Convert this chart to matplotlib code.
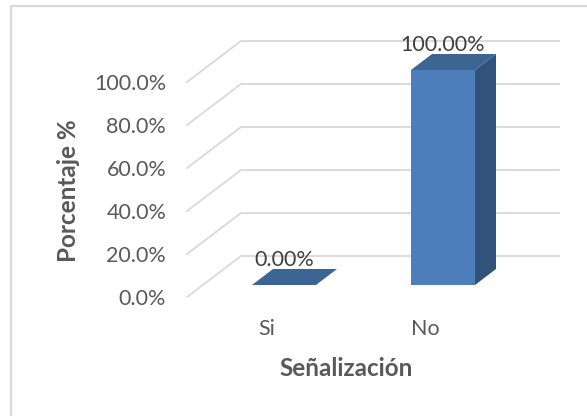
import matplotlib
matplotlib.use('Agg')
import matplotlib.pyplot as plt
from matplotlib.lines import Line2D
from matplotlib.patches import Polygon

# Datos
categorias = ['Si', 'No']
porcentajes = [0.0, 100.0]
etiquetas = ['0.00%', '100.00%']
yticks = [0, 20, 40, 60, 80, 100]
ytick_labels = ['0.0%', '20.0%', '40.0%', '60.0%', '80.0%', '100.0%']

plt.rcParams['font.family'] = ['Lato', 'DejaVu Sans']

W, H = 587, 416
GRIS = '#595959'
GRID = '#D9D9D9'

fig = plt.figure(figsize=(W / 100, H / 100), dpi=100)
ax = fig.add_axes([187 / W, 1 - 297 / H, 318 / W, 215 / H])
ax.set_xlim(-0.5, 1.5)
ax.set_ylim(0, 100)

# pixeles -> unidades de datos
px_x = 2 / 318
px_y = 100 / 215

# Profundidad del piso y de las barras
piso_x, piso_y = 54 * px_x, 41 * px_y
off_x, off_y = 17.5 * px_x, 12 * px_y
prof_x, prof_y = 21 * px_x, 16 * px_y
ancho = 64 * px_x

# Lineas de la cuadricula (con el lado izquierdo en perspectiva)
for v in yticks:
    ax.plot([-0.5, -0.5 + piso_x, 1.5 + piso_x], [v, v + piso_y, v + piso_y],
            color=GRID, lw=1.3, clip_on=False, zorder=1, solid_joinstyle='miter')

# Barras 3D
for i, val in enumerate(porcentajes):
    x0 = i - ancho / 2 + off_x
    x1 = x0 + ancho
    y0 = off_y
    y1 = val + off_y
    if val > 0:
        ax.add_patch(Polygon([(x1, y0), (x1 + prof_x, y0 + prof_y), (x1 + prof_x, y1 + prof_y), (x1, y1)],
                             facecolor='#31527B', edgecolor='none', clip_on=False, zorder=2))
        ax.bar(i + off_x, val, width=ancho, bottom=off_y, color='#4E7FBB', zorder=3, clip_on=False)
    ax.add_patch(Polygon([(x0, y1), (x1, y1), (x1 + prof_x, y1 + prof_y), (x0 + prof_x, y1 + prof_y)],
                         facecolor='#3D6594', edgecolor='none', clip_on=False, zorder=3))
    ax.annotate(etiquetas[i], xy=(i + off_x, y1), xytext=(0, 18), textcoords='offset points',
                ha='center', va='center', fontsize=15.5, color='#404040', zorder=5,
                annotation_clip=False)

for s in ax.spines.values():
    s.set_visible(False)
ax.patch.set_alpha(0)

ax.set_xticks(range(len(categorias)))
ax.set_xticklabels(categorias)
ax.set_yticks(yticks)
ax.set_yticklabels(ytick_labels)
ax.tick_params(axis='y', length=0, pad=15, labelsize=15.5, labelcolor=GRIS)
ax.tick_params(axis='x', length=0, pad=16, labelsize=15.5, labelcolor=GRIS)

ax.set_xlabel('Señalización', fontsize=17.5, fontweight='bold', color=GRIS, va='center')
ax.xaxis.set_label_coords(0.5, (297 - 369) / 215)
ax.set_ylabel('Porcentaje %', fontsize=17.5, fontweight='bold', color=GRIS, va='center')
ax.yaxis.set_label_coords((68 - 187) / 318, (297 - 191) / 215)

# Marco del grafico (solo arriba e izquierda quedan dentro de la imagen)
fig.add_artist(Line2D([11 / W, 11 / W, 1], [0, 1 - 6 / H, 1 - 6 / H], color=GRID, lw=1.6))

fig.savefig('out.png', dpi=100)
